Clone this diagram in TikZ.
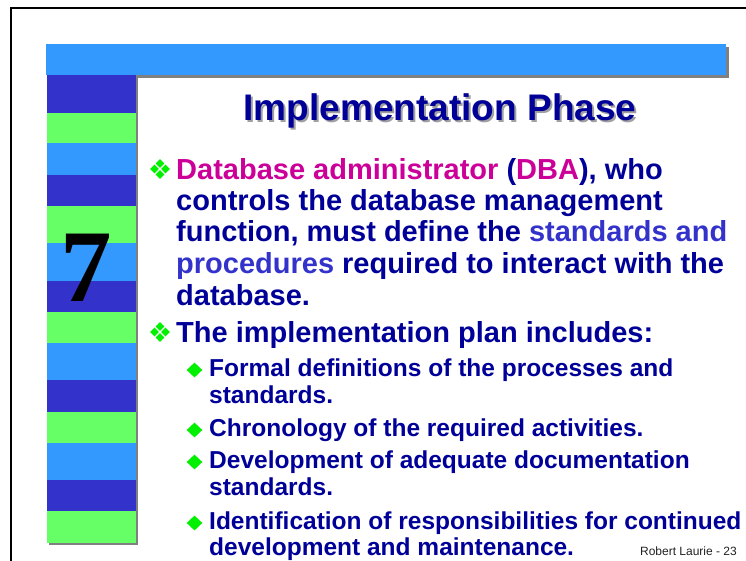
\documentclass[tikz,border=0pt]{standalone}
\usepackage{fontspec}
\setmainfont{Liberation Sans}
\newfontfamily\timesbold{Liberation Serif}
\definecolor{sdark}{HTML}{3333CC}
\definecolor{sgreen}{HTML}{66FF66}
\definecolor{slight}{HTML}{3399FF}
\definecolor{navy}{HTML}{000099}
\definecolor{magent}{HTML}{CC0099}
\definecolor{hiblue}{HTML}{3333CC}
\definecolor{bulgreen}{HTML}{00F000}
\definecolor{shadowgray}{HTML}{808080}
\definecolor{titleshadow}{HTML}{A0A0A0}
\definecolor{footgray}{HTML}{222222}
\tikzset{
  bodyline/.style={anchor=base west, inner sep=0pt, text=navy, font=\fontsize{29}{31}\selectfont\bfseries},
  subline/.style={anchor=base west, inner sep=0pt, text=navy, font=\fontsize{24.5}{26}\selectfont\bfseries},
  titletext/.style={anchor=base, inner sep=0pt, font=\fontsize{37}{40}\selectfont\bfseries},
  quaddia/.pic={
    \foreach \dx/\dy in {0/-5.5,0/5.5,-5.5/0,5.5/0}
      \fill[bulgreen] (\dx,\dy) +(0,-4.3) -- +(4.3,0) -- +(0,4.3) -- +(-4.3,0) -- cycle;
  },
  subdia/.pic={
    \fill[bulgreen] (0,-7.4) -- (7.8,0) -- (0,7.4) -- (-7.8,0) -- cycle;
  }
}
\begin{document}
\begin{tikzpicture}[x=1pt,y=-1pt]
\useasboundingbox (0,0) rectangle (746,560);
\begin{scope}
\clip (0,0) rectangle (746,560);
\fill[white] (0,0) rectangle (746,560);
% outer frame
\draw[line width=2pt, black] (10.5,7.5) rectangle (800,620);
% top bar with shadow
\fill[shadowgray] (49,47) rectangle (729,78);
\fill[slight] (46,44) rectangle (726,75);
% left column shadow and stripes
\fill[shadowgray] (49,77) rectangle (138,545);
\foreach \a/\b/\c in {75/113/sdark,113/143/sgreen,143/175/slight,175/206/sdark,206/243/sgreen,243/281/slight,281/312/sdark,312/343/sgreen,343/380/slight,380/412/sdark,412/443/sgreen,443/480/slight,480/511/sdark,511/543/sgreen}
  \fill[\c] (47,\a) rectangle (136,\b);
% chapter number
\node[anchor=base, inner sep=0pt, font=\timesbold\bfseries\fontsize{103}{103}\selectfont] (seven) at (86,301) {7};
% title with shadow
\node[titletext, text=titleshadow] (titleshadow) at (442,122) {Implementation Phase};
\node[titletext, text=navy] (title) at (440,120) {Implementation Phase};
% first main bullet
\pic at (160,169) {quaddia};
\node[bodyline] (l1) at (176,179) {\textcolor{magent}{Database administrator} (\textcolor{magent}{DBA}), who};
\node[bodyline] (l2) at (176,210) {controls the database management};
\node[bodyline] (l3) at (176,241) {function, must define the \textcolor{hiblue}{standards and}};
\node[bodyline] (l4) at (176,273) {\textcolor{hiblue}{procedures} required to interact with the};
\node[bodyline] (l5) at (176,305) {database.};
% second main bullet
\pic at (160,332) {quaddia};
\node[bodyline] (m1) at (176,342) {The implementation plan includes:};
% sub bullets
\pic at (194.5,370) {subdia};
\node[subline] (s1) at (209,376) {Formal definitions of the processes and};
\node[subline] (s1b) at (209,403) {standards.};
\pic at (194.5,430) {subdia};
\node[subline] (s2) at (209,436) {Chronology of the required activities.};
\pic at (194.5,462) {subdia};
\node[subline] (s3) at (209,468) {Development of adequate documentation};
\node[subline] (s3b) at (209,495) {standards.};
\pic at (194.5,523) {subdia};
\node[subline] (s4) at (209,529) {Identification of responsibilities for continued};
\node[subline] (s4b) at (209,555) {development and maintenance.};
% footer
\node[anchor=base east, inner sep=0pt, text=footgray, font=\fontsize{12}{12}\selectfont] (footer) at (737,555) {Robert Laurie - 23};
\end{scope}
\end{tikzpicture}
\end{document}
